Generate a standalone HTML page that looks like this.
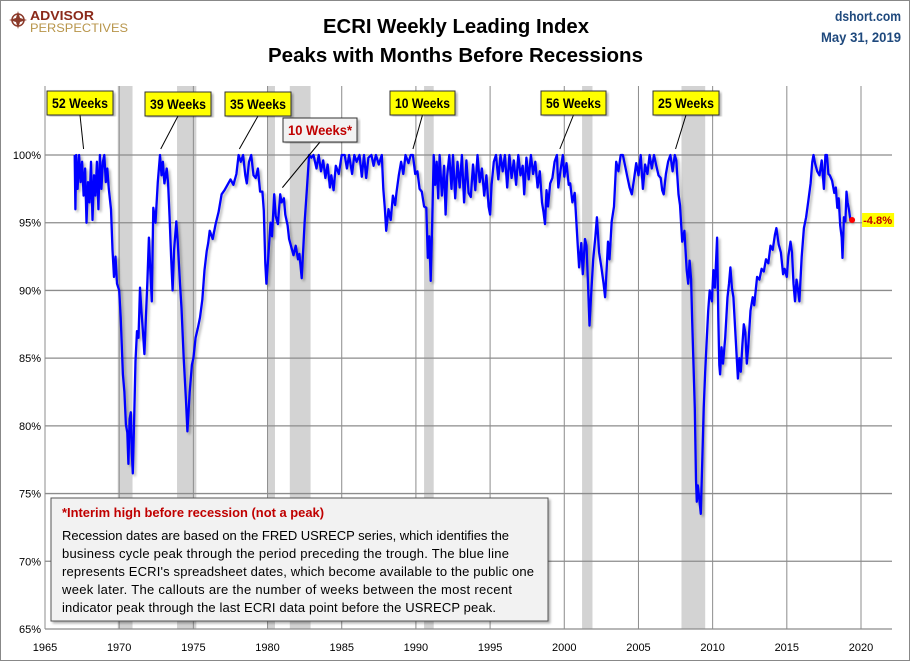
<!DOCTYPE html>
<html><head><meta charset="utf-8">
<style>
body{margin:0;background:#fff;}
#wrap{position:relative;width:908px;height:659px;border:1px solid #888;background:#fff;overflow:hidden;font-family:"Liberation Sans",sans-serif;}
svg text{font-family:"Liberation Sans",sans-serif;}
</style></head>
<body>
<div id="wrap">
<svg id="chart" width="908" height="659" viewBox="0 0 908 659" xmlns="http://www.w3.org/2000/svg">
<defs>
<filter id="sh" x="-5%" y="-5%" width="110%" height="110%"><feDropShadow dx="2" dy="2" stdDeviation="1.2" flood-color="#000" flood-opacity="0.3"/></filter>
</defs>
<g>
<circle cx="17" cy="19" r="6" fill="none" stroke="#8b3a2a" stroke-width="1.5"/>
<path d="M17 10 L19 17 L26 19 L19 21 L17 28 L15 21 L8 19 L15 17Z" fill="#8b3a2a"/>
<text x="29" y="19" font-size="13" font-weight="bold" fill="#8b2a1a" textLength="64" lengthAdjust="spacingAndGlyphs">ADVISOR</text>
<text x="29" y="31" font-size="12" fill="#b8954a" textLength="98" lengthAdjust="spacingAndGlyphs">PERSPECTIVES</text>
</g>
<text x="322" y="32" font-size="20" font-weight="bold" fill="#000" textLength="266" lengthAdjust="spacingAndGlyphs">ECRI Weekly Leading Index</text>
<text x="267" y="61" font-size="20" font-weight="bold" fill="#000" textLength="375" lengthAdjust="spacingAndGlyphs">Peaks with Months Before Recessions</text>
<text x="900" y="20" font-size="14" font-weight="bold" text-anchor="end" fill="#1f497d" textLength="66" lengthAdjust="spacingAndGlyphs">dshort.com</text>
<text x="900" y="41" font-size="14" font-weight="bold" text-anchor="end" fill="#1f497d" textLength="80" lengthAdjust="spacingAndGlyphs">May 31, 2019</text>
<g id="bands"></g><g id="grid"></g><g id="axes"></g><g id="series"></g><g id="callouts"></g>
<g>
<rect x="50" y="497" width="497" height="123" fill="#f2f2f2" stroke="#555" filter="url(#sh)"/>
<text x="61" y="516" font-size="13" font-weight="bold" fill="#c00000" textLength="262" lengthAdjust="spacingAndGlyphs">*Interim high before recession (not a peak)</text>
<text font-size="13" fill="#000" lengthAdjust="spacingAndGlyphs">
<tspan x="61" y="539" textLength="447">Recession dates are based on the FRED USRECP series, which identifies the</tspan>
<tspan x="61" y="557" textLength="447">business cycle peak through the period preceding the trough. The blue line</tspan>
<tspan x="61" y="575" textLength="472">represents ECRI's spreadsheet dates, which become available to the public one</tspan>
<tspan x="61" y="593" textLength="450">week later. The callouts are the number of weeks between the most recent</tspan>
<tspan x="61" y="611" textLength="434">indicator peak through the last ECRI data point before the USRECP peak.</tspan>
</text>
</g>
</svg>
</div>
<script>
const recStart=[1969.9,1973.9,1980.0,1981.5,1990.55,2001.2,2007.9];
const recEnd=[1970.9,1975.2,1980.5,1982.9,1991.2,2001.9,2009.5];
const yTicks=[65,70,75,80,85,90,95,100];
const xTicks=[1965,1970,1975,1980,1985,1990,1995,2000,2005,2010,2015,2020];
const calloutLabels=["52 Weeks","39 Weeks","35 Weeks","10 Weeks*","10 Weeks","56 Weeks","25 Weeks"];
const calloutPeakYears=[1967.6,1972.8,1978.1,1981.0,1989.8,1999.7,2007.5];
const calloutPeakVals=[100,100,100,97,100,100,100];
const dates=[1967.0,1967.05,1967.1,1967.2,1967.3,1967.4,1967.5,1967.6,1967.7,1967.8,1967.9,1968.0,1968.1,1968.2,1968.3,1968.4,1968.5,1968.6,1968.7,1968.8,1968.9,1969.0,1969.1,1969.2,1969.3,1969.45,1969.55,1969.65,1969.75,1969.85,1970.0,1970.1,1970.25,1970.35,1970.45,1970.55,1970.62,1970.7,1970.78,1970.85,1970.92,1971.0,1971.1,1971.2,1971.3,1971.4,1971.5,1971.6,1971.7,1971.8,1971.9,1972.0,1972.1,1972.2,1972.3,1972.45,1972.6,1972.75,1972.85,1972.95,1973.05,1973.2,1973.3,1973.4,1973.5,1973.6,1973.7,1973.85,1973.95,1974.1,1974.2,1974.35,1974.5,1974.6,1974.75,1974.9,1975.0,1975.15,1975.3,1975.45,1975.6,1975.75,1975.9,1976.0,1976.1,1976.3,1976.5,1976.7,1976.9,1977.1,1977.3,1977.5,1977.7,1977.9,1978.05,1978.2,1978.35,1978.5,1978.6,1978.75,1978.9,1979.05,1979.2,1979.35,1979.5,1979.65,1979.75,1979.85,1979.92,1980.05,1980.2,1980.3,1980.45,1980.55,1980.7,1980.85,1980.95,1981.1,1981.2,1981.35,1981.45,1981.6,1981.75,1981.9,1982.05,1982.15,1982.3,1982.4,1982.5,1982.65,1982.8,1982.95,1983.1,1983.3,1983.45,1983.6,1983.75,1983.9,1984.05,1984.2,1984.3,1984.45,1984.6,1984.8,1985.0,1985.2,1985.35,1985.5,1985.7,1985.85,1986.0,1986.2,1986.35,1986.5,1986.65,1986.8,1987.0,1987.15,1987.3,1987.5,1987.7,1987.8,1987.9,1988.0,1988.15,1988.3,1988.45,1988.6,1988.7,1988.85,1989.0,1989.15,1989.3,1989.5,1989.65,1989.8,1989.95,1990.1,1990.25,1990.4,1990.55,1990.7,1990.8,1990.9,1991.0,1991.1,1991.2,1991.3,1991.4,1991.5,1991.6,1991.75,1991.9,1992.0,1992.1,1992.25,1992.4,1992.5,1992.65,1992.8,1992.95,1993.1,1993.25,1993.4,1993.55,1993.7,1993.85,1994.0,1994.15,1994.3,1994.45,1994.6,1994.75,1994.9,1995.0,1995.1,1995.25,1995.4,1995.55,1995.7,1995.85,1996.0,1996.15,1996.3,1996.45,1996.6,1996.75,1996.9,1997.05,1997.2,1997.3,1997.45,1997.6,1997.75,1997.9,1998.05,1998.2,1998.35,1998.5,1998.6,1998.7,1998.8,1998.9,1999.05,1999.2,1999.35,1999.5,1999.6,1999.75,1999.9,2000.0,2000.15,2000.3,2000.4,2000.55,2000.7,2000.8,2000.9,2001.0,2001.15,2001.25,2001.4,2001.5,2001.6,2001.7,2001.8,2001.95,2002.1,2002.2,2002.35,2002.5,2002.65,2002.75,2002.85,2002.95,2003.05,2003.2,2003.35,2003.5,2003.65,2003.8,2003.95,2004.1,2004.25,2004.4,2004.55,2004.7,2004.85,2005.0,2005.15,2005.3,2005.45,2005.6,2005.75,2005.9,2006.05,2006.2,2006.35,2006.5,2006.6,2006.7,2006.85,2007.0,2007.15,2007.3,2007.45,2007.55,2007.7,2007.8,2007.95,2008.1,2008.25,2008.35,2008.45,2008.55,2008.62,2008.7,2008.8,2008.88,2008.93,2009.0,2009.1,2009.2,2009.3,2009.4,2009.5,2009.6,2009.7,2009.8,2009.95,2010.05,2010.15,2010.3,2010.38,2010.45,2010.5,2010.6,2010.7,2010.85,2011.0,2011.1,2011.2,2011.3,2011.4,2011.5,2011.6,2011.7,2011.8,2011.9,2012.0,2012.1,2012.2,2012.3,2012.4,2012.55,2012.7,2012.8,2013.0,2013.15,2013.3,2013.45,2013.6,2013.75,2013.9,2014.05,2014.2,2014.3,2014.45,2014.6,2014.75,2014.85,2015.0,2015.1,2015.25,2015.35,2015.45,2015.55,2015.65,2015.75,2015.85,2016.0,2016.15,2016.3,2016.45,2016.6,2016.72,2016.8,2016.9,2017.05,2017.2,2017.35,2017.5,2017.6,2017.7,2017.8,2017.9,2018.05,2018.2,2018.3,2018.4,2018.5,2018.6,2018.7,2018.75,2018.85,2018.95,2019.02,2019.1,2019.2,2019.3,2019.4];
const values=[100,96,100,97.5,100,98,99.5,97,99,95,98,96.5,99.5,95.2,98.5,97,99.5,96,100,97.5,99.5,100,98,99,97.5,96,93,91,92.5,90.5,90,88,83.8,82.5,80.1,79.5,77.2,80.5,81,78,76.5,80,84.8,87,86.5,90.2,88.5,87,85.3,88,90.7,93.9,91.5,89.2,96.1,95,98,100,98.5,99.5,97.9,99,97.9,95.4,92.5,90,93,95.1,93.5,90.5,88.7,85,82,79.6,82.5,84.5,85,86.5,87.2,88,89.3,91.5,92.9,93.5,94.4,93.8,94.9,95.8,97.1,97.4,97.8,98.2,97.8,98.6,100,99.5,100,98.5,97.9,99.5,100,98.5,98.3,99,97.3,97.3,95.9,92,90.5,92.5,95,94,97.1,95.5,94.9,97.1,96.5,96.8,95.6,94.8,93.8,93.2,92.6,93.3,92.3,92.7,90.9,93,95,97.5,100,99.8,100,99,100,98.8,99.6,98.3,99.3,97.6,98.5,97.4,99.2,98.6,100,100,99,100,98.6,100,99.5,100,98.4,100,98.3,99.8,100,99.2,100,99.3,100,97.5,96.1,94.4,96,95.2,97,96.3,97.3,98.5,99.5,98.6,100,99.4,100,100,98.6,98.8,97.5,97.3,96.2,96.1,92.4,94,90.7,95,100,97.8,99.5,96.8,100,97,99.2,95.6,98.4,100,97.5,100,96.8,99.5,97.6,100,96.5,99.6,97.2,96.9,99.3,97.4,100,98,99,97,98.5,96.2,95.6,97.8,99.5,100,98.2,100,98.8,100,97.6,100,98.3,99.6,97.8,100,98.5,99.2,97.1,99.8,98.2,100,98.6,99.5,97.6,98.8,96.5,95.8,94.9,97.4,96.2,97.9,98.3,99.5,100,97.6,98.9,100,98.4,99.4,97.8,97.9,96.5,97.2,95.4,93.5,91.7,93.5,91.2,93.8,93.3,90.5,87.4,89.5,92.3,94,95.4,92.8,91.7,90.5,89.5,91.5,93.6,92.3,95.1,96.2,99.5,98.8,100,100,99.2,98.4,97.6,97.1,98.2,99.4,98.5,100,97.5,99.3,98.6,100,99,100,99.2,98.5,98.3,97.4,97.1,98.6,99.5,100,98.8,100,99.6,97.1,96.3,93.6,94.4,91.5,90.5,92.2,90.8,87.7,85,81.3,76,74.4,75.6,74.6,73.5,77.5,81.3,84,86.3,88.5,90,89.2,91.5,90.2,93.9,88,84.5,83.8,85.8,84.6,86.5,89.5,90.5,91.7,90.2,89.5,87.5,85.5,83.5,85,84,85.9,87.5,86.9,84.6,85.8,88.5,89.5,88.9,91,90.8,91.6,91.4,92.3,92,93.3,93,94.1,94.6,93.4,92.8,91.2,91.6,91,92.5,93.6,92.8,90.5,89.2,90.8,90.1,89.2,92.5,94.6,95.4,96.6,97.9,99.5,100,99.4,98.8,98.5,99.6,97.5,100,100,98.6,98.5,98.1,97.2,97.6,96.1,96.8,94.8,93.9,92.4,95.4,95.1,97.3,96.5,95.9,95.1,95.2];

const NS='http://www.w3.org/2000/svg';
const X0=44,X1=860,Y0=628,Y1=154,PL=44,PR=891,PT=85;
function xs(y){return X0+(y-1965)*(X1-X0)/55;}
function ys(v){return Y0-(v-65)*(Y0-Y1)/35;}
function mk(tag,attrs,parent){const e=document.createElementNS(NS,tag);for(const k in attrs)e.setAttribute(k,attrs[k]);parent.appendChild(e);return e;}
const bands=document.getElementById('bands'),grid=document.getElementById('grid'),axes=document.getElementById('axes'),series=document.getElementById('series'),callouts=document.getElementById('callouts');
recStart.forEach((s,i)=>{
  const r=mk('rect',{x:xs(s),y:PT,width:xs(recEnd[i])-xs(s),height:Y0-PT,fill:'#d3d3d3'},bands);
  
  
});
yTicks.forEach(t=>{
  const l=mk('line',{x1:PL,x2:PR,y1:ys(t),y2:ys(t),stroke:'#8c8c8c','stroke-width':1.3},grid);
  
  
  const tx=mk('text',{x:PL-4,y:ys(t)+4,'font-size':11,'text-anchor':'end',fill:'#000'},axes);
  tx.textContent=t+'%';
  
  
});
xTicks.forEach(t=>{
  const l=mk('line',{x1:xs(t),x2:xs(t),y1:PT,y2:Y0,stroke:'#8c8c8c','stroke-width':1},grid);
  
  
  const tx=mk('text',{x:xs(t),y:650,'font-size':11,'text-anchor':'middle',fill:'#000'},axes);
  tx.textContent=t;
  
  
});
const pl=mk('line',{x1:PL,x2:PL,y1:PT,y2:Y0,stroke:'#8c8c8c'},axes);


let d='';
dates.forEach((t,i)=>{d+=(i?'L':'M')+xs(t).toFixed(1)+' '+ys(values[i]).toFixed(1);});
const path=mk('path',{d:d,fill:'none',stroke:'#0000ff','stroke-width':2.3,'stroke-linejoin':'round',filter:'url(#sh)'},series);


const lastX=xs(dates[dates.length-1]),lastY=ys(values[values.length-1]);
const dot=mk('circle',{cx:lastX,cy:lastY,r:3,fill:'#ff0000'},series);


const lbg=mk('rect',{x:lastX+10,y:lastY-7,width:32,height:14,fill:'#ffff00'},series);


const lt=mk('text',{x:lastX+11,y:lastY+4,'font-size':11,'font-weight':'bold',fill:'#c00000',textLength:29,lengthAdjust:'spacingAndGlyphs'},series);
lt.textContent=(values[values.length-1]-100).toFixed(1)+'%';


const boxX=[46,144,224,282,389,540,652];
const boxY=[90,91,91,117,90,90,90];
const boxW=[66,66,66,74,65,65,66];
calloutLabels.forEach((lab,i)=>{
  const g=mk('g',{},callouts);
  
  
  const star=lab.indexOf('*')>=0;
  const px=xs(calloutPeakYears[i]),py=ys(calloutPeakVals[i])-(star?8:6);
  mk('line',{x1:boxX[i]+boxW[i]/2,y1:boxY[i]+24,x2:px,y2:py,stroke:'#000','stroke-width':1},g);
  mk('rect',{x:boxX[i],y:boxY[i],width:boxW[i],height:24,fill:star?'#f2f2f2':'#ffff00',stroke:'#333',filter:'url(#sh)'},g);
  const t=mk('text',{x:boxX[i]+5,y:boxY[i]+17,'font-size':14,'font-weight':'bold',fill:star?'#c00000':'#000',textLength:boxW[i]-10,lengthAdjust:'spacingAndGlyphs'},g);
  t.textContent=lab;
});
</script>
</body></html>
